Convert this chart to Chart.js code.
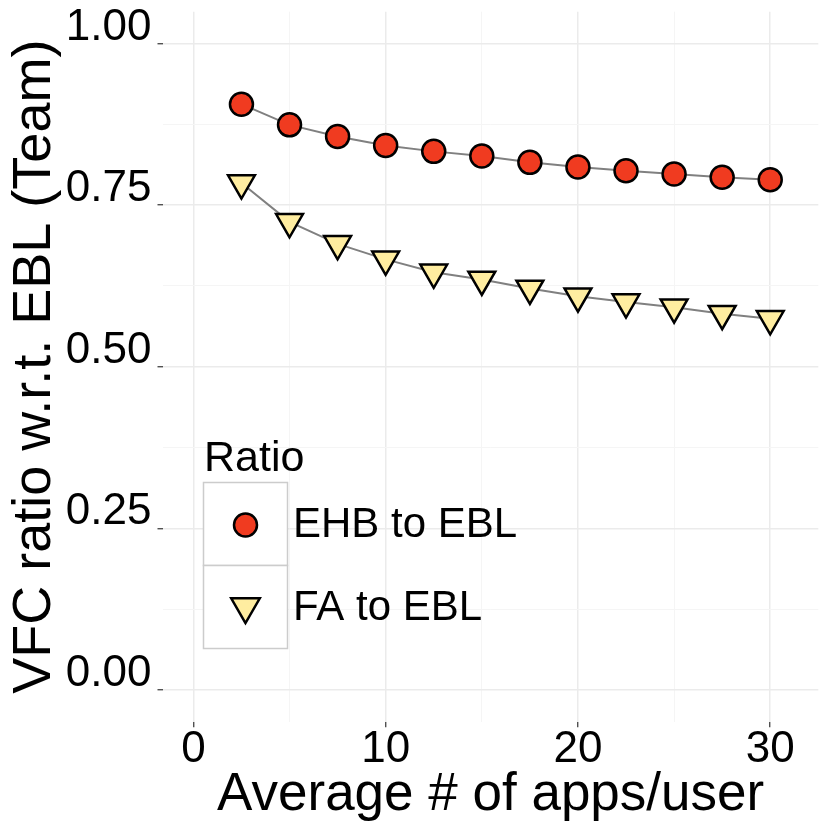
<!DOCTYPE html>
<html>
<head>
<meta charset="utf-8">
<script src="https://cdn.jsdelivr.net/npm/chart.js@4.4.1/dist/chart.umd.min.js"></script>
<style>
  html, body { margin: 0; padding: 0; background: #fff; }
  #wrap { width: 830px; height: 830px; }
</style>
</head>
<body>
<div id="wrap"><canvas id="myChart" width="830" height="830"></canvas></div>
<script>
// data
const apps = [2.5, 5, 7.5, 10, 12.5, 15, 17.5, 20, 22.5, 25, 27.5, 30];
const ehbToEbl = [0.906, 0.874, 0.856, 0.842, 0.833, 0.826, 0.816, 0.809, 0.803, 0.798, 0.793, 0.789];
const faToEbl = [0.784, 0.724, 0.690, 0.666, 0.646, 0.635, 0.621, 0.609, 0.600, 0.592, 0.582, 0.574];
const seriesNames = ['EHB to EBL', 'FA to EBL'];

const xMajor = [0, 10, 20, 30];
const xMinor = [5, 15, 25];
const xTickLabels = ['0', '10', '20', '30'];
const yMajor = [0, 0.25, 0.5, 0.75, 1];
const yMinor = [0.125, 0.375, 0.625, 0.875];
const yTickLabels = ['0.00', '0.25', '0.50', '0.75', '1.00'];

const red = '#F03B20';
const yellow = '#FFEDA0';
const FONT = "'Liberation Sans', Arial, sans-serif";

function pts(ys) {
  return apps.map((x, i) => ({ x: x, y: ys[i] }));
}

function isMajor(list, v) {
  return list.some(m => Math.abs(m - v) < 1e-9);
}

// ggplot-like legend inside the panel
const legendBox = {
  id: 'legendBox',
  afterDraw(chart) {
    const c = chart.ctx;
    c.save();
    c.fillStyle = '#000';
    c.textAlign = 'left';
    c.textBaseline = 'middle';
    c.font = '43px ' + FONT;
    c.fillText('Ratio', 204, 459);

    const left = 203.5, w = 84, rows = [482.5, 565.5], h = 83;
    rows.forEach(top => {
      c.fillStyle = '#fff';
      c.fillRect(left, top, w, h);
      c.strokeStyle = '#cccccc';
      c.lineWidth = 1.5;
      c.strokeRect(left, top, w, h);
    });

    const cx = left + w / 2;
    // circle key
    c.beginPath();
    c.arc(cx, 525, 11.5, 0, Math.PI * 2);
    c.fillStyle = red;
    c.fill();
    c.lineWidth = 2.5;
    c.strokeStyle = '#000';
    c.stroke();
    // down-triangle key
    const r = 16.5, cy = 606.5;
    c.beginPath();
    c.moveTo(cx, cy + r);
    c.lineTo(cx - r * Math.sin(Math.PI / 3), cy - r / 2);
    c.lineTo(cx + r * Math.sin(Math.PI / 3), cy - r / 2);
    c.closePath();
    c.fillStyle = yellow;
    c.fill();
    c.stroke();

    c.fillStyle = '#000';
    c.font = '42px ' + FONT;
    c.fillText(seriesNames[0], 293, 525);
    c.fillText(seriesNames[1], 293, 608);
    c.restore();
  }
};

let myChart = document.getElementById('myChart').getContext('2d');

let vfcChart = new Chart(myChart, {
  type: 'line',
  data: {
    datasets: [{
      label: seriesNames[0],
      data: pts(ehbToEbl),
      borderColor: '#808080',
      borderWidth: 2,
      pointStyle: 'circle',
      pointRadius: 11.5,
      pointBorderWidth: 2.5,
      pointBackgroundColor: red,
      pointBorderColor: '#000',
      tension: 0
    }, {
      label: seriesNames[1],
      data: pts(faToEbl),
      borderColor: '#808080',
      borderWidth: 2,
      pointStyle: 'triangle',
      pointRotation: 180,
      pointRadius: 15.5,
      pointBorderWidth: 2.5,
      pointBackgroundColor: yellow,
      pointBorderColor: '#000',
      tension: 0
    }]
  },
  options: {
    responsive: false,
    animation: false,
    devicePixelRatio: 1,
    layout: { autoPadding: false, padding: { top: 11.7, right: 11.7, left: 0, bottom: 0 } },
    plugins: {
      legend: { display: false },
      tooltip: { enabled: false }
    },
    scales: {
      x: {
        type: 'linear',
        min: -1.58,
        max: 32.5,
        afterBuildTicks: s => { s.ticks = xMajor.concat(xMinor).sort((a, b) => a - b).map(v => ({ value: v })); },
        afterFit: s => { s.height = 108.3; s.paddingLeft = 0; s.paddingRight = 0; },
        border: { display: false },
        grid: {
          color: ctx => isMajor(xMajor, ctx.tick.value) ? '#ebebeb' : '#f5f5f5',
          lineWidth: ctx => isMajor(xMajor, ctx.tick.value) ? 1.5 : 1,
          tickColor: ctx => isMajor(xMajor, ctx.tick.value) ? '#333333' : 'rgba(0,0,0,0)',
          tickWidth: 1.2,
          tickLength: 5.5
        },
        ticks: {
          autoSkip: false,
          maxRotation: 0,
          padding: 1,
          color: '#000',
          font: { family: FONT, size: 44, lineHeight: 1 },
          callback: v => { const i = xMajor.indexOf(v); return i >= 0 ? xTickLabels[i] : ''; }
        },
        title: {
          display: true,
          text: 'Average # of apps/user',
          color: '#000',
          font: { family: FONT, size: 53, lineHeight: 1 },
          padding: { top: 0, bottom: 8.5 }
        }
      },
      y: {
        min: -0.049,
        max: 1.049,
        afterBuildTicks: s => { s.ticks = yMajor.concat(yMinor).sort((a, b) => a - b).map(v => ({ value: v })); },
        afterFit: s => { s.width = 163; s.paddingTop = 0; s.paddingBottom = 0; },
        border: { display: false },
        grid: {
          color: ctx => isMajor(yMajor, ctx.tick.value) ? '#ebebeb' : '#f5f5f5',
          lineWidth: ctx => isMajor(yMajor, ctx.tick.value) ? 1.5 : 1,
          tickColor: ctx => isMajor(yMajor, ctx.tick.value) ? '#333333' : 'rgba(0,0,0,0)',
          tickWidth: 1.2,
          tickLength: 5.5
        },
        ticks: {
          autoSkip: false,
          padding: 6,
          labelOffset: -16,
          color: '#000',
          font: { family: FONT, size: 44, lineHeight: 1 },
          callback: v => { const i = yMajor.indexOf(v); return i >= 0 ? yTickLabels[i] : ''; }
        },
        title: {
          display: true,
          text: 'VFC ratio w.r.t. EBL (Team)',
          color: '#000',
          font: { family: FONT, size: 54, lineHeight: 1 },
          padding: { top: 8, bottom: 0 }
        }
      }
    }
  },
  plugins: [legendBox]
});
</script>
</body>
</html>
